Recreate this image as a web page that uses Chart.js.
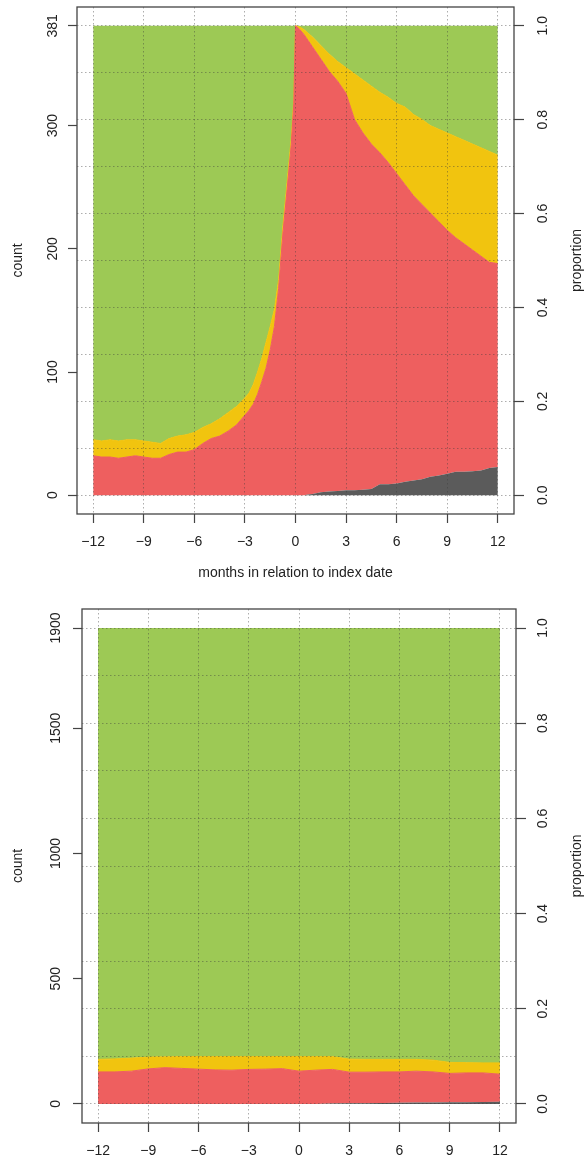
<!DOCTYPE html>
<html><head><meta charset="utf-8">
<script src="https://cdn.jsdelivr.net/npm/chart.js@4.4.0/dist/chart.umd.min.js"></script>
<style>
html,body{margin:0;padding:0;background:#fff;width:584px;height:1159px;overflow:hidden}
canvas{position:absolute;left:0}
#c1{top:0}
#c2{top:590px}
</style></head><body>
<canvas id="c1" width="584" height="590"></canvas>
<canvas id="c2" width="584" height="569"></canvas>
<script>
// ---------- data: top panel (n = 381) ----------
const topMonths = [-12,-11.5,-11,-10.5,-10,-9.5,-9,-8.5,-8,-7.5,-7,-6.5,-6,-5.5,-5,-4.5,-4,-3.5,-3,
  -2.75,-2.5,-2.25,-2,-1.75,-1.5,-1.25,-1,-0.75,-0.5,-0.25,-0.1,0,
  0.25,0.5,0.75,1,1.5,2,2.5,3,3.5,4,4.5,5,5.5,6,6.5,7,7.5,8,8.5,9,9.5,10,10.5,11,11.5,12];
const topGreyTop = [0,0,0,0,0,0,0,0,0,0,0,0,0,0,0,0,0,0,0,
  0,0,0,0,0,0,0,0,0,0,0,0,0,
  0,0,0.5,1,2.5,3,3.5,4,4,4.5,5,9,9,9.5,11,12,13,15,16,17.5,19,19,19.5,20,22,23];
const topRedTop = [32,31,31,30,31,32,31,30,30,33,35,35,37,42,46,48,52,57,65,
  69,74,82,92,103,118,137,168,212,248,285,318,381,
  378,374,369,364,354,344,336,326,305,294,285,278,270,261,252,243,236,229,222,215,209,204,199,194,189,188];
const topYellowTop = [45,44,45,44,45,45,44,43,42,46,48,49,51,55,58,62,67,72,79,
  83,90,100,111,124,137,151,175,218,254,290,322,381,
  380,378,375,372,365,358,352,347,342,337,332,327,323,318,315,309,305,300,297,294,291,288,285,282,279,276];
const topTotal = [381,381,381,381,381,381,381,381,381,381,381,381,381,381,381,381,381,381,381,
  381,381,381,381,381,381,381,381,381,381,381,381,381,
  381,381,381,381,381,381,381,381,381,381,381,381,381,381,381,381,381,381,381,381,381,381,381,381,381,381];
const topCountTicks = [0,100,200,300,381];

// ---------- data: bottom panel (n = 1900) ----------
const botMonths = [-12,-11,-10,-9,-8,-7,-6,-5,-4,-3,-2,-1,0,1,2,3,4,5,6,7,8,9,10,11,12];
const botGreyTop = [0,0,0,0,0,0,0,0,0,0,0,0,0,0,2,3,3,4,5,6,6,7,7,8,9];
const botRedTop = [128,128,131,140,145,142,139,136,135,138,139,141,131,135,138,127,127,128,128,131,128,122,124,124,119];
const botYellowTop = [178,180,183,187,188,189,189,189,189,189,189,189,189,189,189,179,178,178,178,178,175,166,165,164,164];
const botTotal = [1900,1900,1900,1900,1900,1900,1900,1900,1900,1900,1900,1900,1900,1900,1900,1900,1900,1900,1900,1900,1900,1900,1900,1900,1900];
const botCountTicks = [0,500,1000,1500,1900];

// ---------- shared ticks ----------
const monthTicks = [-12,-9,-6,-3,0,3,6,9,12];
const monthTickLabels = ['\u221212','\u22129','\u22126','\u22123','0','3','6','9','12'];
const propTicks = [0,0.2,0.4,0.6,0.8,1.0];
const propTickLabels = ['0.0','0.2','0.4','0.6','0.8','1.0'];
const propGrid = [0,0.1,0.2,0.3,0.4,0.5,0.6,0.7,0.8,0.9,1.0];

// ---------- style ----------
const FONT = "'Liberation Sans', Arial, Helvetica, sans-serif";
const INK = '#222';
const AXIS = '#444';
const GRID = 'rgba(60,60,60,0.42)';
const COLORS = {grey:'#5b5b5b', red:'#ee5f5f', yellow:'#f1c40f', green:'#9dc955'};
const f14 = {family: FONT, size: 14};

function pts(xs, ys){ return xs.map((x,i)=>({x:x, y:ys[i]})); }
function setTicks(values){ return s => { s.ticks = values.map(v=>({value:v})); }; }
function fixed(w,h){ return s => {
  if (w!=null) s.width = w; if (h!=null) s.height = h;
  s.paddingTop = 0; s.paddingBottom = 0; s.paddingLeft = 0; s.paddingRight = 0; }; }

const boxPlugin = {
  id: 'box',
  afterDraw(chart, args, opts){
    const ctx = chart.ctx, a = chart.chartArea;
    ctx.save();
    ctx.strokeStyle = AXIS; ctx.lineWidth = 1.3;
    ctx.strokeRect(a.left, a.top, a.right - a.left, a.bottom - a.top);
    if (opts.rightTitle){
      ctx.fillStyle = INK; ctx.font = '14px ' + FONT;
      ctx.textAlign = 'center'; ctx.textBaseline = 'middle';
      ctx.translate(opts.rightTitleX, (a.top + a.bottom)/2);
      ctx.rotate(-Math.PI/2);
      ctx.fillText(opts.rightTitle, 0, 0);
    }
    ctx.restore();
  }
};

function build(id, p){
  const lo = -0.04, hi = 1.04;
  const layers = [
    {label:'grey',   data: pts(p.months, p.grey),   color: COLORS.grey,   fill:'origin', bw:0},
    {label:'red',    data: pts(p.months, p.red),    color: COLORS.red,    fill:'-1', bw:1},
    {label:'yellow', data: pts(p.months, p.yellow), color: COLORS.yellow, fill:'-1', bw:1},
    {label:'green',  data: pts(p.months, p.total),  color: COLORS.green,  fill:'-1', bw:0}
  ];
  return new Chart(document.getElementById(id), {
    type: 'line',
    data: {datasets: layers.map(s => ({label:s.label, data:s.data, backgroundColor:s.color,
      borderColor:s.color, borderWidth:s.bw, pointRadius:0, pointHoverRadius:0, fill:s.fill, tension:0}))},
    options: {
      responsive:false, animation:false, devicePixelRatio:1,
      layout:{padding:{top:p.padTop, left:0, right:0, bottom:0}},
      plugins:{legend:{display:false}, tooltip:{enabled:false},
        box:{rightTitle:'proportion', rightTitleX:577}},
      scales:{
        x:{type:'linear', position:'bottom', bounds:'data', min:-12.96, max:12.96,
          afterBuildTicks:setTicks(monthTicks), afterFit:fixed(null, p.xH),
          grid:{color:GRID, z:1, tickLength:9, tickColor:AXIS, tickWidth:1.2},
          border:{display:false, dash:[1.5,2.5]},
          ticks:{padding:10.5, font:f14, color:INK, minRotation:0, maxRotation:0, autoSkip:false,
            callback:(v,i)=>monthTickLabels[i]},
          title:{display:p.xTitle, text:'months in relation to index date', font:f14, color:INK,
            padding:{top:0, bottom:8.6}}},
        y:{type:'linear', position:'left', bounds:'data', min:lo*p.n, max:hi*p.n,
          afterBuildTicks:setTicks(p.countTicks), afterFit:fixed(p.leftW, null),
          grid:{drawOnChartArea:false, tickLength:9, tickColor:AXIS, tickWidth:1.2},
          border:{display:false},
          ticks:{padding:p.leftPad, minRotation:90, maxRotation:90, crossAlign:'center', autoSkip:false,
            font:f14, color:INK, callback:v=>String(v)},
          title:{display:true, text:'count', font:f14, color:INK, padding:{top:9.6, bottom:0}}},
        yp:{type:'linear', position:'right', bounds:'data', min:lo, max:hi,
          afterBuildTicks:setTicks(propTicks), afterFit:fixed(p.rightW, null),
          grid:{drawOnChartArea:false, tickLength:10, tickColor:AXIS, tickWidth:1.2},
          border:{display:false},
          ticks:{padding:p.rightPad, minRotation:90, maxRotation:90, crossAlign:'center', autoSkip:false,
            font:f14, color:INK, callback:(v,i)=>propTickLabels[i]}},
        yg:{type:'linear', position:'right', bounds:'data', min:lo, max:hi,
          afterBuildTicks:setTicks(propGrid), afterFit:fixed(0, null),
          grid:{color:GRID, z:1, drawTicks:false}, border:{display:false, dash:[1.5,2.5]},
          ticks:{display:false}}
      }
    },
    plugins:[boxPlugin]
  });
}

build('c1', {months:topMonths, grey:topGreyTop, red:topRedTop, yellow:topYellowTop, total:topTotal,
  n:381, countTicks:topCountTicks, padTop:7, leftW:77, rightW:70, xH:76, leftPad:3, rightPad:9, xTitle:true});
build('c2', {months:botMonths, grey:botGreyTop, red:botRedTop, yellow:botYellowTop, total:botTotal,
  n:1900, countTicks:botCountTicks, padTop:19, leftW:82, rightW:68, xH:36, leftPad:1, rightPad:7.3, xTitle:false});
</script>
</body></html>
